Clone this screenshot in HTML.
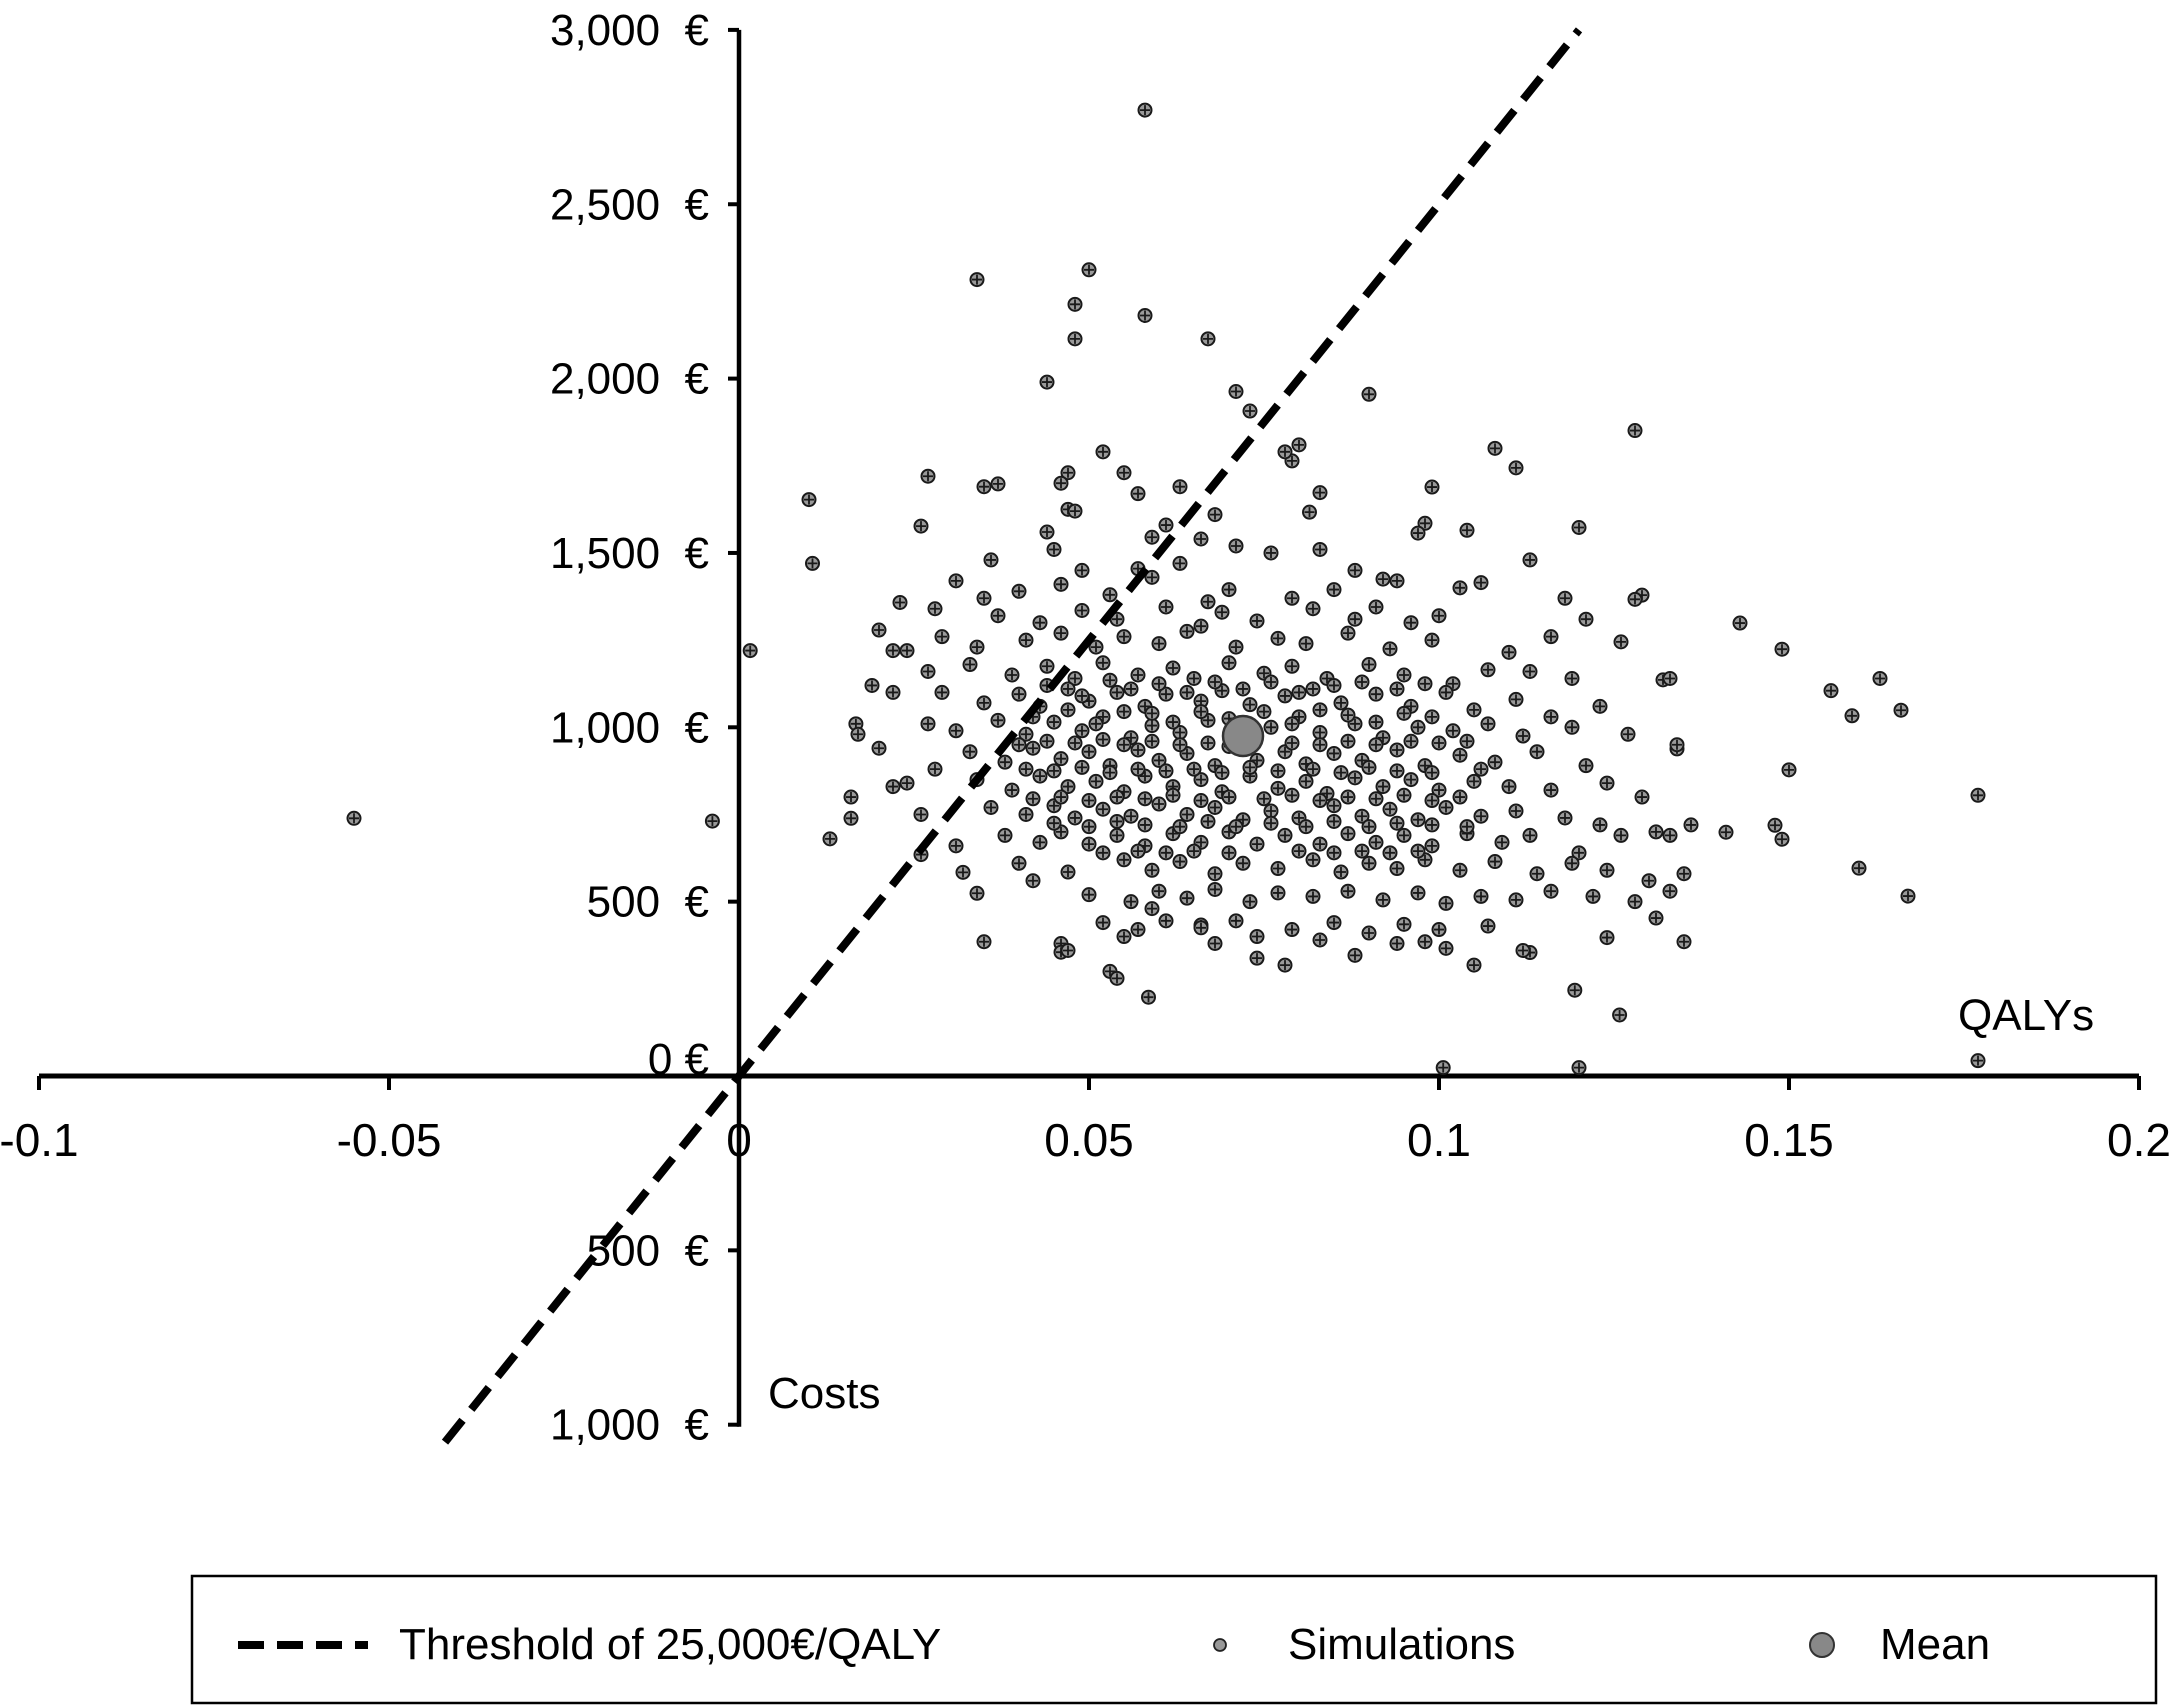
<!DOCTYPE html>
<html><head><meta charset="utf-8"><style>
html,body{margin:0;padding:0;background:#fff;}
svg{display:block;font-family:"Liberation Sans",Arial,sans-serif;}
</style></head><body>
<svg id="chart" width="2172" height="1705" viewBox="0 0 2172 1705" xmlns="http://www.w3.org/2000/svg">
<g id="axes"></g>
<g id="marks"></g>
<g id="legend">
  <rect x="192" y="1576" width="1964" height="127" fill="#fff" stroke="#000" stroke-width="2.5"/>
  <line x1="238" y1="1645" x2="368" y2="1645" stroke="#000" stroke-width="8" stroke-dasharray="26,13"/>
  <text x="399" y="1659" font-size="44">Threshold of 25,000€/QALY</text>
  <circle cx="1220" cy="1645" r="6" fill="#999" stroke="#222" stroke-width="1.8"/>
  <text x="1288" y="1659" font-size="44">Simulations</text>
  <circle cx="1822" cy="1645" r="12" fill="#888" stroke="#333" stroke-width="2"/>
  <text x="1880" y="1659" font-size="44">Mean</text>
</g>
</svg>
<script>
const xTicks=[-0.1,-0.05,0,0.05,0.1,0.15,0.2];
const xTickLabels=["-0.1","-0.05","0","0.05","0.1","0.15","0.2"];
const yTicks=[-1000,-500,0,500,1000,1500,2000,2500,3000];
const yTickLabels=["1,000  €","500  €","0 €","500  €","1,000  €","1,500  €","2,000  €","2,500  €","3,000  €"];
const thresholdRatio=25000;
const thresholdQalyRange=[-0.042,0.12];
const meanPoint=[0.072,975];
const simulations=[
[0.058,2770],[0.034,2284],[0.050,2312],[0.048,2213],[0.048,2114],[0.058,2181],[0.067,2114],[0.044,1990],[0.071,1963],[0.090,1955],[0.128,1851],[0.010,1653],[0.0105,1470],[0.0016,1220],[-0.055,739],[-0.0038,731],[0.1006,24],[0.120,24],[0.177,44],[0.1194,246],[0.1258,175],[0.177,805],[0.166,1049],[0.163,1140],[0.156,1105],[0.159,1033],[0.150,878],[0.160,596],[0.167,516],[0.149,1224],[0.143,1299],[0.141,699],[0.148,719],[0.149,679],[0.135,385],[0.131,453],[0.134,938],[0.132,1136],[0.129,1379],[0.128,1367],[0.120,1573],[0.108,1800],[0.111,1744],[0.099,1689],[0.098,1585],[0.097,1557],[0.104,1565],[0.0815,1617],[0.083,1673],[0.079,1764],[0.078,1790],[0.080,1810],[0.073,1907],[0.047,1730],[0.046,1700],[0.047,1625],[0.048,1620],[0.035,1690],[0.037,1698],[0.027,1720],[0.026,1577],[0.020,1279],[0.023,1358],[0.022,1220],[0.024,1220],[0.0167,1010],[0.017,980],[0.016,800],[0.016,739],[0.013,680],[0.020,940],[0.022,830],[0.026,635],[0.032,584],[0.034,524],[0.035,385],[0.046,380],[0.046,355],[0.053,300],[0.054,280],[0.0585,226],[0.066,433],[0.074,338],[0.078,318],[0.088,346],[0.101,366],[0.105,318],[0.113,354],[0.124,397],[0.055,1730],[0.057,1670],[0.063,1690],[0.068,1610],[0.052,1790],[0.061,1580],[0.066,1540],[0.071,1520],[0.044,1560],[0.059,1545],
[0.036,1480],[0.045,1510],[0.057,1455],[0.063,1470],[0.076,1500],[0.083,1510],[0.088,1450],[0.092,1425],[0.103,1400],[0.113,1480],[0.049,1450],
[0.031,1420],[0.040,1390],[0.046,1410],[0.053,1380],[0.059,1430],[0.067,1360],[0.070,1395],[0.079,1370],[0.085,1395],[0.094,1420],[0.106,1415],[0.118,1370],[0.035,1370],
[0.028,1340],[0.037,1320],[0.043,1300],[0.049,1335],[0.054,1310],[0.061,1345],[0.066,1290],[0.069,1330],[0.074,1305],[0.082,1340],[0.088,1310],[0.096,1300],[0.100,1320],[0.121,1310],[0.091,1345],
[0.029,1260],[0.034,1230],[0.041,1250],[0.046,1270],[0.051,1230],[0.055,1260],[0.060,1240],[0.064,1275],[0.071,1230],[0.077,1255],[0.081,1240],[0.087,1270],[0.093,1225],[0.099,1250],[0.110,1215],[0.126,1245],[0.116,1260],
[0.027,1160],[0.033,1180],[0.039,1150],[0.044,1175],[0.048,1140],[0.052,1185],[0.057,1150],[0.062,1170],[0.065,1140],[0.070,1185],[0.075,1155],[0.079,1175],[0.084,1140],[0.090,1180],[0.095,1150],[0.102,1125],[0.107,1165],[0.113,1160],[0.119,1140],[0.133,1140],
[0.029,1100],[0.035,1070],[0.040,1095],[0.043,1060],[0.047,1110],[0.050,1075],[0.054,1100],[0.058,1060],[0.061,1095],[0.066,1075],[0.069,1105],[0.073,1065],[0.078,1090],[0.082,1110],[0.086,1070],[0.091,1095],[0.096,1060],[0.101,1100],[0.105,1050],[0.111,1080],[0.116,1030],[0.123,1060],[0.022,1100],[0.019,1120],
[0.027,1010],[0.031,990],[0.037,1020],[0.041,980],[0.045,1015],[0.049,990],[0.052,1030],[0.056,970],[0.059,1005],[0.063,985],[0.067,1020],[0.071,960],[0.076,1000],[0.080,1030],[0.083,985],[0.088,1010],[0.092,970],[0.097,1000],[0.102,990],[0.107,1010],[0.112,975],[0.119,1000],[0.127,980],
[0.033,930],[0.038,900],[0.042,940],[0.046,910],[0.050,930],[0.053,890],[0.057,935],[0.060,905],[0.064,925],[0.068,890],[0.070,945],[0.074,905],[0.078,930],[0.081,895],[0.085,925],[0.089,905],[0.094,935],[0.098,890],[0.103,920],[0.108,900],[0.114,930],[0.121,890],[0.134,950],[0.028,880],
[0.034,850],[0.039,820],[0.043,860],[0.047,830],[0.051,845],[0.055,815],[0.058,860],[0.062,830],[0.066,850],[0.069,815],[0.073,860],[0.077,825],[0.081,845],[0.084,810],[0.088,855],[0.092,830],[0.096,850],[0.100,820],[0.105,845],[0.110,830],[0.116,820],[0.124,840],[0.129,800],[0.024,840],
[0.036,770],[0.041,750],[0.045,775],[0.048,740],[0.052,765],[0.056,745],[0.060,780],[0.064,750],[0.068,770],[0.072,735],[0.076,760],[0.080,740],[0.085,775],[0.089,745],[0.093,765],[0.097,735],[0.101,770],[0.106,745],[0.111,760],[0.118,740],[0.123,720],[0.131,700],[0.136,720],[0.026,750],
[0.038,690],[0.043,670],[0.046,700],[0.050,665],[0.054,690],[0.058,660],[0.062,695],[0.066,670],[0.070,700],[0.074,665],[0.078,690],[0.083,665],[0.087,695],[0.091,670],[0.095,690],[0.099,660],[0.104,695],[0.109,670],[0.113,690],[0.120,640],[0.126,690],[0.133,690],[0.031,660],
[0.040,610],[0.047,585],[0.055,620],[0.059,590],[0.063,615],[0.068,580],[0.072,610],[0.077,595],[0.082,620],[0.086,585],[0.090,610],[0.094,595],[0.098,620],[0.103,590],[0.108,615],[0.114,580],[0.119,610],[0.124,590],[0.130,560],[0.135,580],[0.042,560],
[0.050,520],[0.056,500],[0.060,530],[0.064,510],[0.068,535],[0.073,500],[0.077,525],[0.082,515],[0.087,530],[0.092,505],[0.097,525],[0.101,495],[0.106,515],[0.111,505],[0.116,530],[0.122,515],[0.128,500],[0.133,530],[0.059,480],
[0.052,440],[0.057,420],[0.061,445],[0.066,425],[0.071,445],[0.079,420],[0.085,440],[0.090,410],[0.095,435],[0.100,420],[0.107,430],[0.055,400],[0.068,380],[0.083,390],[0.098,385],[0.047,360],[0.112,360],[0.094,380],[0.074,400],
[0.044,1120],[0.049,1090],[0.053,1135],[0.056,1110],[0.060,1125],[0.064,1100],[0.068,1130],[0.072,1110],[0.076,1130],[0.080,1100],[0.085,1120],[0.089,1130],[0.094,1110],[0.098,1125],
[0.042,1030],[0.047,1050],[0.051,1010],[0.055,1045],[0.059,1040],[0.062,1015],[0.066,1045],[0.070,1025],[0.075,1045],[0.079,1010],[0.083,1050],[0.087,1035],[0.091,1015],[0.095,1040],[0.099,1030],
[0.040,950],[0.044,960],[0.048,955],[0.052,965],[0.055,950],[0.059,960],[0.063,950],[0.067,955],[0.079,955],[0.083,950],[0.087,960],[0.091,950],[0.096,960],[0.100,955],[0.104,960],
[0.041,880],[0.045,875],[0.049,885],[0.053,870],[0.057,880],[0.061,875],[0.065,880],[0.069,870],[0.073,885],[0.077,875],[0.082,880],[0.086,870],[0.090,885],[0.094,875],[0.099,870],[0.106,880],
[0.042,795],[0.046,800],[0.050,790],[0.054,800],[0.058,795],[0.062,805],[0.066,790],[0.070,800],[0.075,795],[0.079,805],[0.083,790],[0.087,800],[0.091,795],[0.095,805],[0.099,790],[0.103,800],
[0.045,725],[0.050,715],[0.054,730],[0.058,720],[0.063,715],[0.067,730],[0.071,715],[0.076,725],[0.081,715],[0.085,730],[0.090,715],[0.094,725],[0.099,720],[0.104,715],
[0.052,640],[0.057,645],[0.061,640],[0.065,645],[0.070,640],[0.080,645],[0.085,640],[0.089,645],[0.093,640],[0.097,645]
];

const NS="http://www.w3.org/2000/svg";
const X0=739, XS=7000, Y0=1076, YS=0.3487;
function xs(v){return X0+v*XS;}
function ys(v){return Y0-v*YS;}
function mk(tag,attrs,parent){const e=document.createElementNS(NS,tag);for(const k in attrs)e.setAttribute(k,attrs[k]);parent.appendChild(e);return e;}

const axes=document.getElementById('axes');
const xa=mk('line',{x1:xs(-0.1),y1:Y0,x2:xs(0.2),y2:Y0,stroke:'#000','stroke-width':5},axes);


const ya=mk('line',{x1:X0,y1:ys(3000),x2:X0,y2:ys(-1000)+2,stroke:'#000','stroke-width':4.5},axes);


xTicks.forEach((v,i)=>{
  const t=mk('line',{x1:xs(v),y1:Y0,x2:xs(v),y2:Y0+14,stroke:'#000','stroke-width':4},axes);
  
  
  const l=mk('text',{x:xs(v),y:Y0+80,'font-size':46,'text-anchor':'middle'},axes);
  
  
  l.textContent=xTickLabels[i];
});
yTicks.forEach((v,i)=>{
  const t=mk('line',{x1:X0-11,y1:ys(v),x2:X0,y2:ys(v),stroke:'#000','stroke-width':4},axes);
  
  
  const dy=(v===0)?-2:15;
  const l=mk('text',{x:709,y:ys(v)+dy,'font-size':44,'text-anchor':'end'},axes);
  
  
  l.setAttribute('style','white-space:pre');
  l.textContent=yTickLabels[i];
});
const xt=mk('text',{x:1958,y:1030,'font-size':44},axes);


xt.textContent='QALYs';
const yt=mk('text',{x:768,y:1408,'font-size':44},axes);


yt.textContent='Costs';

const marks=document.getElementById('marks');
simulations.forEach(p=>{
  const g=mk('g',{},marks);
  
  
  const cx=xs(p[0]),cy=ys(p[1]);
  mk('circle',{cx:cx,cy:cy,r:6.5,fill:'#9a9a9a',stroke:'#1a1a1a','stroke-width':2},g);
  mk('path',{d:`M${cx-5},${cy}H${cx+5}M${cx},${cy-5}V${cy+5}`,stroke:'#1a1a1a','stroke-width':1.8},g);
});
const tl=mk('line',{x1:xs(thresholdQalyRange[0]),y1:ys(thresholdQalyRange[0]*thresholdRatio),x2:xs(thresholdQalyRange[1]),y2:ys(thresholdQalyRange[1]*thresholdRatio),stroke:'#000','stroke-width':8,'stroke-dasharray':'28,14'},marks);


const mp=mk('circle',{cx:xs(meanPoint[0]),cy:ys(meanPoint[1]),r:20,fill:'#888',stroke:'#333','stroke-width':2.5},marks);


</script>
</body></html>
